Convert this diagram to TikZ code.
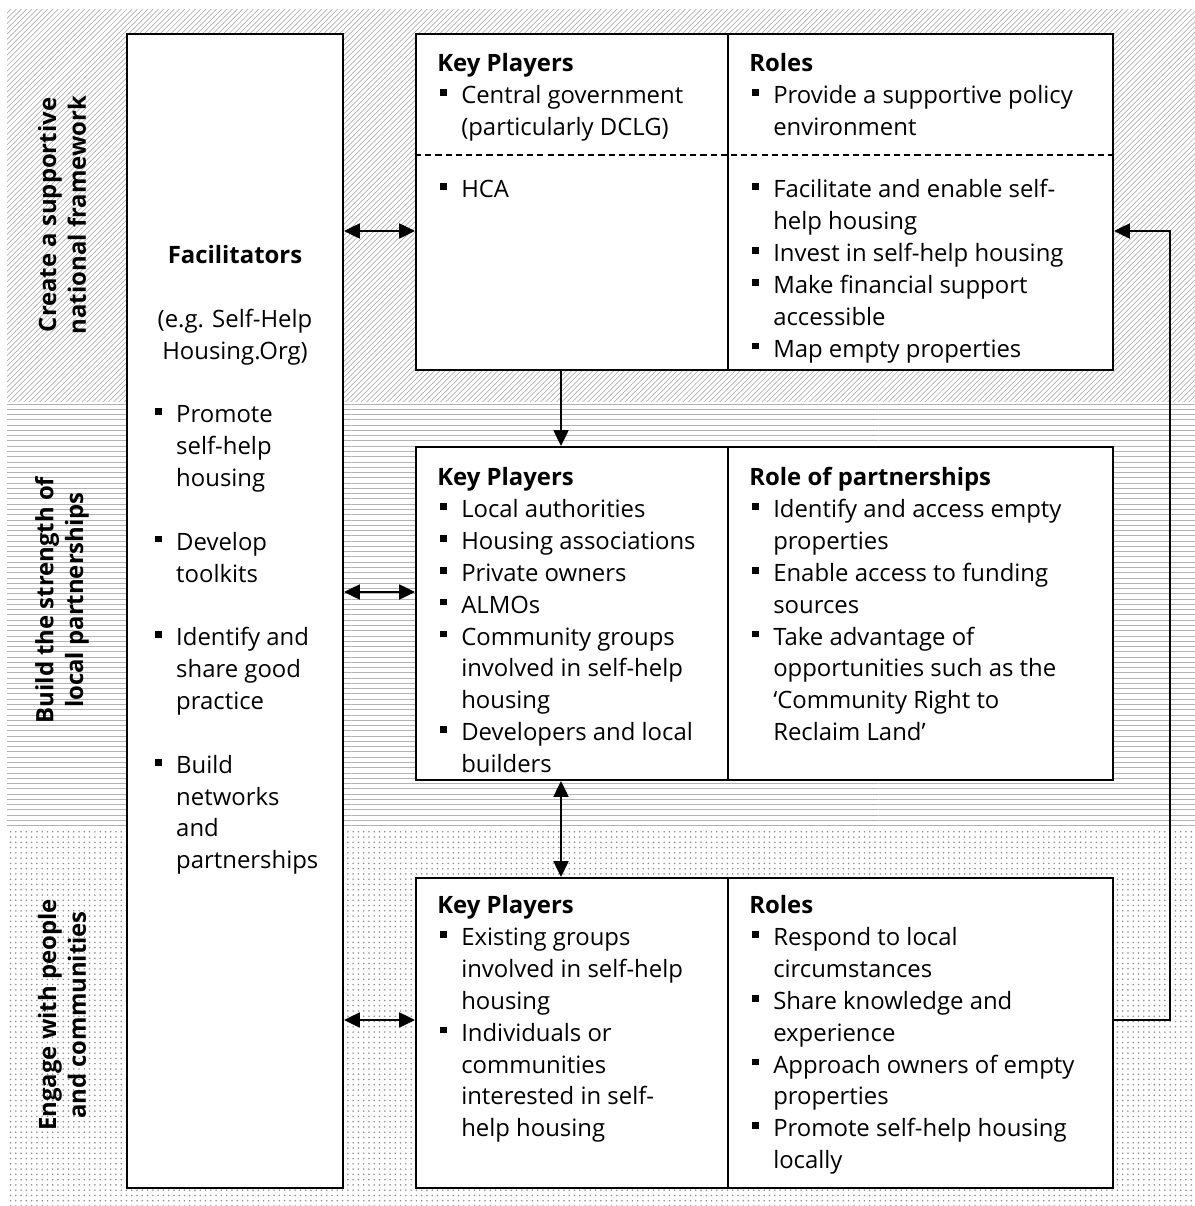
\documentclass[tikz,border=0pt]{standalone}
\usepackage{fontspec}
\setmainfont{Open Sans}
\usetikzlibrary{patterns, arrows.meta, fit}

\newcommand{\blt}{\makebox[13.6pt][l]{\hspace{1.6pt}\rule[4.4pt]{3.8pt}{3.8pt}}}
\newcommand{\ind}{\hspace*{13.6pt}}

\begin{document}
\begin{tikzpicture}[x = 0.02cm, y = -0.02cm,
  box/.style = {draw, line width = 1.1pt, fill = white, inner sep = 0pt},
  txt/.style = {anchor = north west, align = left, inner sep = 0pt, font = {\fontsize{13.6pt}{18.14pt}\selectfont}},
  lbl/.style = {rotate = 90, align = center, inner sep = 0pt, font = {\fontsize{13.6pt}{17pt}\selectfont\bfseries}},
  link/.style = {line width = 1.1pt, -{Triangle[length = 9pt, width = 8.5pt]}},
  dbl/.style = {line width = 1.1pt, {Triangle[length = 9pt, width = 8.5pt]}-{Triangle[length = 9pt, width = 8.5pt]}}]

\useasboundingbox (0, 0) rectangle (1195, 1206);

% background bands
\fill[pattern = north east lines, pattern color = black!30] (7, 10) rectangle (1195, 401);
\fill[pattern = horizontal lines, pattern color = black!30] (7, 401) rectangle (1195, 828);
\fill[pattern = dots, pattern color = black!45] (7, 828) rectangle (1195, 1206);

\node[lbl] (l1) at (62, 215) {Create a supportive\\national framework};
\node[lbl] (l2) at (62, 600) {Build the strength of\\local partnerships};
\node[lbl] (l3) at (62, 1015) {Engage with people\\and communities};

% boxes
\node[box, fit = {(127, 34) (343, 1188)}] (fac) {};
\node[box, fit = {(416, 34) (1113, 370)}] (top) {};
\node[box, fit = {(416, 447) (1113, 780)}] (mid) {};
\node[box, fit = {(416, 878) (1113, 1188)}] (bot) {};

\draw[line width = 1.1pt] (top.north -| 728, 0) -- (top.south -| 728, 0);
\draw[line width = 1.1pt] (mid.north -| 728, 0) -- (mid.south -| 728, 0);
\draw[line width = 1.1pt] (bot.north -| 728, 0) -- (bot.south -| 728, 0);
\draw[dashed, line width = 0.7pt, dash pattern = on 3.5pt off 2.3pt] (top.west |- 0, 155) -- (top.east |- 0, 155);

% facilitators
\node[txt, anchor = north, align = center] (ft) at (235, 241) {\strut\textbf{Facilitators}\\[18.14pt] (e.g. Self-Help\\ Housing.Org)};
\node[txt] (fl) at (152, 400) {\strut\blt Promote\\ \ind self-help\\ \ind housing\\[18.14pt]
  \blt Develop\\ \ind toolkits\\[18.14pt]
  \blt Identify and\\ \ind share good\\ \ind practice\\[18.14pt]
  \blt Build\\ \ind networks\\ \ind and\\ \ind partnerships};

% top box
\node[txt] (t1) at (437, 49) {\strut\textbf{Key Players}\\ \blt Central government\\ \ind (particularly DCLG)};
\node[txt] (t2) at (437, 175) {\strut\blt HCA};
\node[txt] (t3) at (749, 49) {\strut\textbf{Roles}\\ \blt Provide a supportive policy\\ \ind environment};
\node[txt] (t4) at (749, 175) {\strut\blt Facilitate and enable self-\\ \ind help housing\\ \blt Invest in self-help housing\\
  \blt Make financial support\\ \ind accessible\\ \blt Map empty properties};

% middle box
\node[txt] (m1) at (437, 463) {\strut\textbf{Key Players}\\ \blt Local authorities\\ \blt Housing associations\\ \blt Private owners\\
  \blt ALMOs\\ \blt Community groups\\ \ind involved in self-help\\ \ind housing\\ \blt Developers and local\\ \ind builders};
\node[txt] (m2) at (749, 463) {\strut\textbf{Role of partnerships}\\ \blt Identify and access empty\\ \ind properties\\
  \blt Enable access to funding\\ \ind sources\\ \blt Take advantage of\\ \ind opportunities such as the\\
  \ind `Community Right to\\ \ind Reclaim Land'};

% bottom box
\node[txt] (b1) at (437, 891) {\strut\textbf{Key Players}\\ \blt Existing groups\\ \ind involved in self-help\\ \ind housing\\
  \blt Individuals or\\ \ind communities\\ \ind interested in self-\\ \ind help housing};
\node[txt] (b2) at (749, 891) {\strut\textbf{Roles}\\ \blt Respond to local\\ \ind circumstances\\ \blt Share knowledge and\\ \ind experience\\
  \blt Approach owners of empty\\ \ind properties\\ \blt Promote self-help housing\\ \ind locally};

% connectors
\draw[dbl] (fac.east |- 0, 231) -- (top.west |- 0, 231);
\draw[dbl] (fac.east |- 0, 592) -- (mid.west |- 0, 592);
\draw[dbl] (fac.east |- 0, 1020) -- (bot.west |- 0, 1020);
\draw[link] (top.south -| 561, 0) -- (mid.north -| 561, 0);
\draw[dbl] (mid.south -| 561, 0) -- (bot.north -| 561, 0);
\draw[link] (bot.east |- 0, 1020) -- (1170, 1020) -- (1170, 231) -- (top.east |- 0, 231);

\end{tikzpicture}
\end{document}
